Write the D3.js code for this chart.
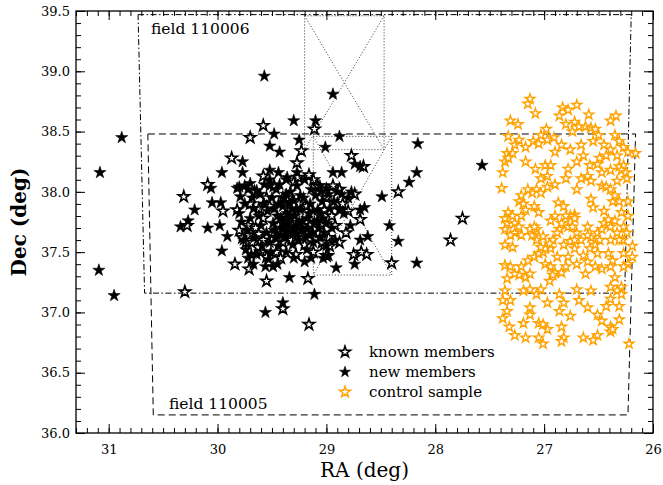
<!DOCTYPE html>
<html>
<head>
<meta charset="utf-8">
<script src="https://cdn.jsdelivr.net/npm/d3@7"></script>
<style>
  body { margin: 0; background: #fff; }
  svg { display: block; }
  text { font-family: "DejaVu Serif", serif; fill: #000; }
</style>
</head>
<body>
<svg id="chart" width="663" height="485"></svg>
<script>
// Axis ticks (RA runs right-to-left)
const raTicks = [31, 30, 29, 28, 27, 26];
const decTicks = [36.0, 36.5, 37.0, 37.5, 38.0, 38.5, 39.0, 39.5];

// Field outlines [RA, Dec]
const field110006 = [[30.73, 39.47], [26.20, 39.47], [26.26, 37.16], [30.67, 37.16]];
const field110005 = [[30.64, 38.48], [26.16, 38.48], [26.23, 36.15], [30.59, 36.15]];
const tileNorth = [[29.20, 39.46], [28.47, 39.46], [28.47, 38.35], [29.20, 38.35]];
const tileSouth = [[29.12, 38.46], [28.40, 38.46], [28.40, 37.31], [29.12, 37.31]];

// New members [RA, Dec]
const newMembers = [
  [31.08, 38.16], [30.88, 38.45], [31.09, 37.35], [30.95, 37.14], [29.57, 38.96], [28.94, 38.81],
  [29.30, 38.59], [29.10, 38.59], [29.48, 38.48], [29.52, 38.38], [29.43, 38.33], [29.25, 38.43],
  [28.88, 38.46], [29.01, 38.37], [28.16, 38.40], [27.57, 38.22], [28.17, 38.16], [28.24, 38.08],
  [28.49, 37.96], [28.42, 37.72], [28.34, 37.59], [28.17, 37.41], [28.62, 37.63], [28.69, 37.60],
  [28.74, 37.40], [28.91, 37.37], [29.03, 37.45], [28.98, 37.47], [29.11, 37.15], [29.34, 37.29],
  [29.56, 37.00], [29.40, 37.08], [29.49, 37.38], [29.67, 37.40], [29.96, 37.51], [29.91, 37.63],
  [30.09, 37.70], [29.98, 37.72], [30.34, 37.71], [30.27, 37.76], [30.21, 37.85], [30.05, 37.91],
  [29.97, 37.91], [30.06, 38.03], [29.96, 38.16], [29.77, 38.25], [29.77, 38.16], [29.80, 38.04],
  [29.70, 38.07], [29.52, 38.18], [28.94, 38.16], [28.86, 38.16], [28.74, 38.23], [28.69, 38.21],
  [28.77, 38.00], [28.69, 37.85], [28.65, 37.87], [29.75, 38.05], [29.72, 38.02], [29.64, 38.01],
  [29.52, 38.05], [29.44, 38.16], [29.37, 38.10], [29.27, 38.16], [29.06, 38.05], [29.00, 38.03],
  [28.80, 37.95], [28.78, 37.72], [29.82, 38.03],
  [29.80, 37.82], [29.78, 37.75], [29.76, 37.60], [29.74, 37.52], [29.72, 37.45], [29.79, 37.96],
  [29.75, 37.90], [29.68, 37.95], [29.73, 37.68], [29.70, 37.78], [29.66, 37.62], [29.69, 37.48],
  [29.64, 37.48], [29.67, 37.86], [29.62, 37.80], [29.60, 37.72], [29.58, 37.90], [29.61, 37.98],
  [29.57, 38.06], [29.55, 37.66], [29.59, 37.55], [29.53, 37.44], [29.56, 37.38], [29.52, 37.58],
  [29.54, 37.84], [29.50, 37.95], [29.52, 38.10], [29.49, 37.74], [29.51, 37.50], [29.47, 37.62],
  [29.48, 37.86], [29.46, 38.02], [29.45, 37.40], [29.44, 37.55], [29.42, 37.78], [29.41, 37.70],
  [29.40, 37.88], [29.39, 37.95], [29.43, 38.06], [29.38, 37.62], [29.37, 37.50], [29.36, 37.82],
  [29.35, 37.74], [29.34, 37.90], [29.33, 38.00], [29.32, 37.66], [29.31, 37.56], [29.30, 37.45],
  [29.36, 38.12], [29.29, 37.80], [29.28, 37.72], [29.30, 37.93], [29.27, 38.05], [29.26, 37.60],
  [29.24, 37.85], [29.23, 37.68], [29.22, 37.76], [29.21, 37.95], [29.20, 38.10], [29.19, 37.62],
  [29.18, 37.52], [29.17, 37.70], [29.16, 37.82], [29.15, 37.90], [29.14, 38.02], [29.13, 37.66],
  [29.12, 37.58], [29.11, 37.75], [29.10, 37.97], [29.20, 37.42], [29.14, 37.45], [29.08, 37.85],
  [29.07, 37.70], [29.06, 37.62], [29.05, 38.00], [29.04, 37.92], [29.03, 37.78], [29.02, 37.66],
  [29.00, 37.74], [28.98, 37.98], [28.97, 37.86], [28.95, 37.70], [28.93, 37.92], [28.90, 38.00],
  [28.88, 37.85], [28.92, 37.60], [29.00, 37.55], [28.86, 37.98], [28.84, 37.82], [29.45, 37.80],
  [29.40, 37.76], [29.38, 37.70], [29.33, 37.78], [29.28, 37.85], [29.25, 37.75], [29.35, 37.66],
  [29.42, 37.64], [29.48, 37.68], [29.30, 37.70], [29.22, 37.70], [29.18, 37.78], [29.27, 37.65],
  [29.32, 37.86], [29.44, 37.90], [29.37, 37.98], [29.24, 37.97], [29.12, 37.84], [29.08, 37.76],
  [29.16, 37.64], [29.06, 37.82]
];

// Known members [RA, Dec]
const knownMembers = [
  [29.58, 38.55], [29.70, 38.45], [30.31, 37.96], [30.28, 37.72], [30.30, 37.17], [29.87, 38.28],
  [29.58, 38.13], [29.11, 38.52], [29.23, 38.34], [29.27, 38.24], [28.77, 38.30], [28.66, 38.21],
  [28.74, 37.98], [28.34, 38.00], [27.75, 37.78], [27.86, 37.60], [28.40, 37.41], [28.63, 37.48],
  [28.68, 37.50], [28.75, 37.48], [28.88, 37.58], [29.00, 37.47], [29.02, 37.56], [29.17, 37.28],
  [29.55, 37.26], [29.40, 37.03], [29.16, 36.90], [29.71, 37.36], [29.84, 37.40], [30.09, 38.06],
  [29.95, 37.84], [29.82, 37.85], [28.69, 37.77], [28.82, 37.66], [28.80, 37.84],
  [29.80, 37.68], [29.77, 37.62], [29.74, 37.58], [29.71, 37.64], [29.68, 37.58], [29.72, 37.72],
  [29.65, 37.70], [29.62, 37.65], [29.60, 37.50], [29.58, 37.60], [29.63, 37.54], [29.55, 37.46],
  [29.50, 37.65], [29.46, 37.50], [29.42, 37.45], [29.40, 37.58], [29.44, 37.72], [29.38, 37.80],
  [29.35, 37.95], [29.32, 37.60], [29.28, 37.48], [29.25, 37.90], [29.22, 37.62], [29.18, 37.88],
  [29.15, 37.72], [29.12, 37.50], [29.10, 37.62], [29.08, 38.05], [29.05, 37.72], [29.02, 37.85],
  [28.98, 37.62], [28.95, 37.80], [28.92, 37.72], [28.90, 37.90], [28.88, 38.02], [28.85, 37.90],
  [29.30, 38.08], [29.26, 38.12], [29.48, 38.05], [29.55, 37.95], [29.62, 37.86], [29.66, 38.00],
  [29.70, 37.90], [29.58, 37.78], [29.52, 37.88], [29.45, 37.62], [29.36, 37.70], [29.20, 37.56],
  [29.40, 37.95], [29.12, 38.10], [29.00, 37.95], [29.16, 38.14], [29.04, 37.58], [28.94, 38.05],
  [28.97, 37.55]
];

// Control sample [RA, Dec]
const controlSample = [
  [27.13, 38.77], [27.15, 38.73], [27.08, 38.65], [26.83, 38.70], [26.78, 38.68], [26.70, 38.72],
  [26.59, 38.64], [26.34, 38.63], [26.39, 38.59], [27.31, 38.59], [27.24, 38.56], [26.86, 38.63],
  [26.80, 38.56], [26.72, 38.58], [26.68, 38.54], [26.62, 38.54], [26.57, 38.53], [26.53, 38.52],
  [26.74, 38.50], [26.98, 38.52], [27.03, 38.47], [26.91, 38.45], [27.33, 38.46], [27.27, 38.39],
  [27.23, 38.43], [27.34, 38.32], [27.29, 38.32], [27.36, 38.25], [27.33, 38.28], [27.10, 38.42],
  [27.17, 38.37], [27.05, 38.40], [26.97, 38.43], [26.84, 38.39], [26.66, 38.39], [26.55, 38.42],
  [26.50, 38.47], [26.45, 38.39], [26.35, 38.47], [26.31, 38.42], [26.27, 38.37], [26.39, 38.35],
  [26.33, 38.30], [26.23, 38.33], [26.16, 38.32], [27.38, 38.16], [27.39, 38.03], [27.17, 38.25],
  [27.08, 38.19], [26.99, 38.22], [26.94, 38.22], [26.90, 38.33], [26.76, 38.35], [26.70, 38.25],
  [26.64, 38.30], [26.58, 38.22], [26.51, 38.23], [26.49, 38.28], [26.43, 38.30], [26.47, 38.16],
  [26.39, 38.18], [26.31, 38.21], [26.27, 38.22], [26.29, 38.18], [26.78, 38.19], [26.80, 38.11],
  [26.66, 38.11], [26.60, 38.13], [26.70, 38.02], [26.57, 38.09], [26.47, 38.05], [26.43, 38.04],
  [26.39, 38.02], [26.25, 38.16], [26.24, 38.11], [26.97, 38.13], [27.03, 38.11], [27.07, 38.02],
  [27.03, 37.99], [27.11, 37.99], [27.15, 38.02], [27.21, 37.97], [27.23, 37.92], [27.19, 37.90],
  [27.09, 37.88], [27.05, 37.83], [26.97, 38.04], [26.90, 38.06], [26.87, 37.91], [26.82, 37.88],
  [26.72, 37.81], [26.76, 37.80], [26.80, 37.80], [26.57, 37.94], [26.55, 37.87], [26.45, 37.84],
  [26.37, 37.92], [26.31, 37.92], [26.23, 37.92], [26.23, 37.80], [26.27, 37.71], [26.24, 37.66],
  [26.28, 37.60], [26.19, 37.55], [26.19, 37.46], [26.23, 37.40], [26.27, 37.38], [26.29, 37.21],
  [26.33, 37.18], [26.29, 37.15], [26.39, 37.11], [26.31, 37.05], [26.43, 37.05], [26.31, 36.94],
  [26.39, 36.88], [26.51, 36.81], [26.55, 36.77], [26.64, 36.79], [26.82, 36.79], [26.84, 36.76],
  [26.97, 36.86], [27.01, 36.74], [27.05, 36.79], [27.17, 36.79], [27.27, 36.81], [27.32, 36.88],
  [27.38, 36.95], [27.34, 37.01], [27.31, 37.10], [27.38, 37.10], [27.19, 36.91], [27.13, 36.98],
  [27.13, 37.04], [27.07, 37.15], [27.03, 37.19], [26.97, 37.08], [26.86, 37.15], [26.82, 37.08],
  [26.86, 37.01], [26.76, 36.97], [26.68, 37.10], [26.60, 37.04], [26.57, 37.18], [26.70, 37.19],
  [26.84, 36.88], [27.05, 36.91], [27.01, 36.90], [26.39, 36.84], [26.37, 36.86], [26.22, 36.74],
  [27.36, 37.18], [27.19, 37.18], [27.13, 37.19], [27.17, 37.29], [27.13, 37.32], [27.23, 37.31],
  [27.27, 37.32], [27.34, 37.28], [27.36, 37.39], [27.31, 37.38], [27.21, 37.38], [27.15, 37.43],
  [27.09, 37.46], [27.05, 37.49], [27.01, 37.50], [26.99, 37.40], [26.94, 37.53], [26.94, 37.38],
  [26.90, 37.33], [26.95, 37.26], [26.92, 37.31], [26.84, 37.33], [26.80, 37.38], [26.78, 37.46],
  [26.88, 37.46], [26.82, 37.56], [26.76, 37.59], [26.72, 37.53], [26.64, 37.47], [26.70, 37.40],
  [26.60, 37.42], [26.62, 37.32], [26.53, 37.38], [26.47, 37.36], [26.39, 37.38], [26.37, 37.43],
  [26.41, 37.49], [26.51, 37.49], [26.58, 37.53], [26.53, 37.56], [26.57, 37.62], [26.60, 37.64],
  [26.51, 37.66], [26.47, 37.69], [26.45, 37.74], [26.39, 37.71], [26.35, 37.76], [26.41, 37.77],
  [26.49, 37.60], [26.39, 37.60], [26.31, 37.60], [26.70, 37.66], [26.78, 37.71], [26.86, 37.69],
  [26.84, 37.74], [26.88, 37.66], [26.92, 37.60], [26.95, 37.57], [26.99, 37.53], [27.03, 37.54],
  [27.07, 37.60], [27.11, 37.64], [27.07, 37.69], [27.27, 37.66], [27.29, 37.54], [27.36, 37.56],
  [27.36, 37.69], [27.34, 37.74], [27.36, 37.78], [27.33, 37.83], [27.29, 37.80], [27.27, 37.74],
  [27.31, 37.64], [27.23, 37.71], [27.21, 37.80], [27.17, 37.85], [26.60, 37.71], [26.66, 37.60],
  [26.72, 37.60], [27.21, 37.64], [27.13, 37.69], [27.09, 37.71], [27.01, 37.63], [26.74, 37.71],
  [26.72, 37.78], [26.90, 37.80], [26.94, 37.76], [26.33, 38.09], [26.35, 37.97], [26.29, 37.83],
  [26.33, 37.66], [26.27, 37.49], [26.35, 37.29], [26.39, 37.21], [26.51, 36.98], [26.47, 36.93]
];

const legendItems = [
  { label: "known members", kind: "known" },
  { label: "new members", kind: "new" },
  { label: "control sample", kind: "control" }
];

const plot = { left: 76, right: 653, top: 11, bottom: 433 };

const svg = d3.select("#chart");
const x = d3.scaleLinear().domain([31.3, 26.0]).range([plot.left, plot.right]);
const y = d3.scaleLinear().domain([36.0, 39.5]).range([plot.bottom, plot.top]);

const styles = {
  known:   { fill: "#fff", stroke: "#000", width: 1.6, size: 40 },
  new:     { fill: "#000", stroke: "#000", width: 0.6, size: 46 },
  control: { fill: "#fff", stroke: "#ffa200", width: 1.4, size: 30 }
};

// Field outlines
const outline = d3.line().x(d => x(d[0])).y(d => y(d[1]));
const closed = pts => outline(pts) + "Z";

const fields = svg.append("g").attr("fill", "none");
fields.append("path").attr("d", closed(field110006))
  .attr("stroke", "#000").attr("stroke-width", 1).attr("stroke-dasharray", "6,2.5,1.5,2.5");
fields.append("path").attr("d", closed(field110005))
  .attr("stroke", "#000").attr("stroke-width", 1).attr("stroke-dasharray", "7,4");

// Dotted tile outlines with their diagonals
[tileNorth, tileSouth].forEach(t => {
  fields.append("path")
    .attr("d", closed(t) + outline([t[0], t[2]]) + outline([t[1], t[3]]))
    .attr("stroke", "#333").attr("stroke-width", 1).attr("stroke-dasharray", "1,2");
});

// Stars: known members underneath, new members on top
function drawStars(data, kind) {
  const s = styles[kind];
  const sym = d3.symbol().type(d3.symbolStar).size(s.size);
  svg.append("g").selectAll("path").data(data).join("path")
    .attr("d", sym)
    .attr("transform", d => `translate(${x(d[0])},${y(d[1])})`)
    .attr("fill", s.fill).attr("stroke", s.stroke).attr("stroke-width", s.width);
}
drawStars(controlSample, "control");
drawStars(knownMembers, "known");
drawStars(newMembers, "new");

// Frame and ticks on all four sides
const xMinor = d3.range(260, 314).map(v => v / 10);
const yMinor = d3.range(360, 396).map(v => v / 10);

function tickAxis(axis, values, size, fmt, transform, pad) {
  const g = svg.append("g").attr("transform", transform)
    .call(axis.tickValues(values).tickSize(size).tickSizeOuter(0).tickFormat(fmt).tickPadding(pad));
  g.select(".domain").remove();
  g.selectAll("line").attr("stroke", "#000").attr("stroke-width", 1);
  return g;
}
const none = () => "";
tickAxis(d3.axisBottom(x), xMinor, -5, none, `translate(0,${plot.bottom})`, 0);
tickAxis(d3.axisTop(x), xMinor, -5, none, `translate(0,${plot.top})`, 0);
tickAxis(d3.axisLeft(y), yMinor, -5, none, `translate(${plot.left},0)`, 0);
tickAxis(d3.axisRight(y), yMinor, -5, none, `translate(${plot.right},0)`, 0);

const xb = tickAxis(d3.axisBottom(x), raTicks, -9, d3.format("d"), `translate(0,${plot.bottom})`, 12);
tickAxis(d3.axisTop(x), raTicks, -9, none, `translate(0,${plot.top})`, 0);
const yl = tickAxis(d3.axisLeft(y), decTicks, -9, d3.format(".1f"), `translate(${plot.left},0)`, 6);
tickAxis(d3.axisRight(y), decTicks, -9, none, `translate(${plot.right},0)`, 0);
[xb, yl].forEach(g => g.selectAll("text")
  .attr("font-family", "DejaVu Serif, serif").attr("font-size", 13).attr("fill", "#000"));

svg.append("rect")
  .attr("x", plot.left).attr("y", plot.top)
  .attr("width", plot.right - plot.left).attr("height", plot.bottom - plot.top)
  .attr("fill", "none").attr("stroke", "#000").attr("stroke-width", 1.3);

// Field labels
svg.append("text").attr("x", 151).attr("y", 34).attr("font-size", 15.5).text("field 110006");
svg.append("text").attr("x", 169).attr("y", 409).attr("font-size", 15.5).text("field 110005");

// Axis titles
svg.append("text").attr("x", (plot.left + plot.right) / 2).attr("y", 477)
  .attr("text-anchor", "middle").attr("font-size", 20).text("RA (deg)");
svg.append("text")
  .attr("transform", `translate(26,${(plot.top + plot.bottom) / 2}) rotate(-90)`)
  .attr("text-anchor", "middle").attr("font-size", 20).attr("font-weight", "bold")
  .text("Dec (deg)");

// Legend
const legend = svg.append("g").attr("transform", "translate(345,352)");
legendItems.forEach((item, i) => {
  const s = styles[item.kind];
  const row = legend.append("g").attr("transform", `translate(0,${i * 20})`);
  row.append("path").attr("d", d3.symbol().type(d3.symbolStar).size(38)())
    .attr("fill", s.fill).attr("stroke", s.stroke).attr("stroke-width", s.width);
  row.append("text").attr("x", 24).attr("y", 0).attr("dy", "0.35em")
    .attr("font-size", 15).text(item.label);
});
</script>
</body>
</html>
